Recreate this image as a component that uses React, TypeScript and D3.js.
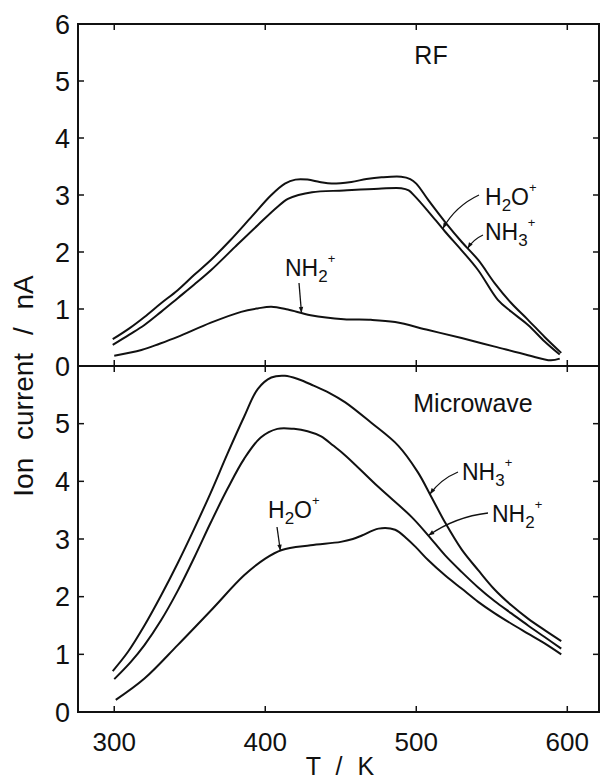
import React from "react";
import * as d3 from "d3";

type P = [number, number];

// RF panel series: [T (K), ion current (nA)]
const rfNH3: P[] = [[299,0.47],[310,0.66],[320,0.86],[331,1.1],[342,1.33],[353,1.6],[364,1.86],[377,2.21],[391,2.62],[404,3.0],[413,3.2],[420,3.27],[428,3.27],[436,3.23],[444,3.2],[457,3.23],[467,3.28],[477,3.31],[490,3.32],[496,3.28],[500,3.2],[508,2.91],[519,2.53],[530,2.18],[541,1.86],[552,1.45],[563,1.1],[574,0.81],[585,0.51],[596,0.23]];
const rfH2O: P[] = [[299,0.37],[310,0.55],[320,0.72],[331,0.95],[342,1.19],[353,1.43],[364,1.68],[380,2.09],[395,2.47],[408,2.79],[415,2.93],[422,3.0],[431,3.05],[452,3.08],[475,3.11],[490,3.12],[495,3.08],[499,2.98],[508,2.71],[519,2.36],[530,2.03],[541,1.68],[554,1.16],[563,0.95],[574,0.72],[585,0.43],[595,0.2]];
const rfNH2: P[] = [[300,0.18],[318,0.28],[330,0.39],[342,0.51],[364,0.76],[384,0.95],[395,1.01],[404,1.04],[415,0.99],[430,0.89],[452,0.82],[470,0.81],[486,0.77],[508,0.63],[530,0.49],[552,0.34],[574,0.19],[589,0.1],[595,0.13]];

// Microwave panel series
const mwNH3: P[] = [[299,0.71],[309,1.04],[320,1.5],[331,2.02],[342,2.58],[353,3.18],[364,3.81],[375,4.48],[386,5.12],[395,5.6],[404,5.8],[413,5.83],[422,5.77],[432,5.66],[442,5.54],[453,5.37],[470,5.02],[488,4.62],[501,4.16],[510,3.73],[519,3.29],[530,2.82],[541,2.46],[552,2.12],[563,1.85],[574,1.62],[585,1.42],[596,1.23]];
const mwNH2: P[] = [[300,0.57],[311,0.87],[320,1.16],[331,1.59],[342,2.1],[353,2.68],[364,3.29],[375,3.87],[386,4.39],[397,4.76],[408,4.91],[419,4.91],[428,4.87],[437,4.78],[445,4.62],[453,4.45],[475,3.9],[497,3.38],[508,3.06],[519,2.72],[530,2.43],[541,2.16],[552,1.92],[563,1.71],[574,1.5],[585,1.3],[596,1.1]];
const mwH2O: P[] = [[301,0.21],[320,0.58],[342,1.16],[364,1.76],[386,2.37],[400,2.66],[411,2.81],[430,2.89],[450,2.95],[458,3.0],[464,3.06],[475,3.18],[486,3.16],[494,3.0],[500,2.85],[508,2.63],[519,2.37],[530,2.14],[541,1.91],[552,1.71],[563,1.53],[574,1.36],[585,1.19],[596,1.0]];

const xTicks = [300, 400, 500, 600];
const yTicksTop = [0, 1, 2, 3, 4, 5, 6];
const yTicksBottom = [0, 1, 2, 3, 4, 5];

const FONT = "'Liberation Sans', Arial, sans-serif";

const x = d3.scaleLinear().domain([276, 621]).range([78, 599]);
const yTop = d3.scaleLinear().domain([0, 6]).range([366, 24]);
const yBot = d3.scaleLinear().domain([0, 6]).range([712, 366]);

function valueAt(s: P[], t: number) {
  for (let i = 0; i < s.length - 1; i++) {
    if (t >= s[i][0] && t <= s[i + 1][0]) {
      const f = (t - s[i][0]) / (s[i + 1][0] - s[i][0]);
      return s[i][1] + f * (s[i + 1][1] - s[i][1]);
    }
  }
  return s[s.length - 1][1];
}

type Part = { t: string; k: "n" | "sub" | "sup" };
type Ann = {
  series: P[];
  y: d3.ScaleLinear<number, number>;
  tipT: number;
  parts: Part[];
  lx: number;
  ly: number;
  sx: number;
  sy: number;
  bend: number;
};

const H2O: Part[] = [{ t: "H", k: "n" }, { t: "2", k: "sub" }, { t: "O", k: "n" }, { t: "+", k: "sup" }];
const NH3: Part[] = [{ t: "NH", k: "n" }, { t: "3", k: "sub" }, { t: "+", k: "sup" }];
const NH2: Part[] = [{ t: "NH", k: "n" }, { t: "2", k: "sub" }, { t: "+", k: "sup" }];

const anns: Ann[] = [
  { series: rfH2O, y: yTop, tipT: 517.5, parts: H2O, lx: 485, ly: 205, sx: 479, sy: 195, bend: 8 },
  { series: rfNH3, y: yTop, tipT: 534, parts: NH3, lx: 485, ly: 240, sx: 483, sy: 235, bend: 3 },
  { series: rfNH2, y: yTop, tipT: 424, parts: NH2, lx: 285, ly: 276, sx: 299, sy: 283, bend: 0 },
  { series: mwNH3, y: yBot, tipT: 509, parts: NH3, lx: 462, ly: 480, sx: 458, sy: 472, bend: 5 },
  { series: mwNH2, y: yBot, tipT: 508, parts: NH2, lx: 492, ly: 522, sx: 488, sy: 513, bend: 8 },
  { series: mwH2O, y: yBot, tipT: 410, parts: H2O, lx: 268, ly: 518, sx: 277, sy: 527, bend: 0 },
];

function Label({ a }: { a: Ann }) {
  let cur = 0;
  return (
    <text x={a.lx} y={a.ly} fontFamily={FONT} fontSize={23} fill="#111">
      {a.parts.map((p, i) => {
        const target = p.k === "sub" ? 6 : p.k === "sup" ? -13 : 0;
        const dy = target - cur;
        cur = target;
        return (
          <tspan key={i} dy={dy} fontSize={p.k === "n" ? 23 : p.k === "sub" ? 17 : 13}>
            {p.t}
          </tspan>
        );
      })}
    </text>
  );
}

function Leader({ a }: { a: Ann }) {
  const tx = x(a.tipT);
  const ty = a.y(valueAt(a.series, a.tipT));
  const mx = (a.sx + tx) / 2;
  const my = (a.sy + ty) / 2;
  const dx = tx - a.sx;
  const dy = ty - a.sy;
  const len = Math.hypot(dx, dy);
  const nx = -dy / len;
  const ny = dx / len;
  const cx = mx + nx * a.bend;
  const cy = my + ny * a.bend;
  const ax = tx - cx;
  const ay = ty - cy;
  const al = Math.hypot(ax, ay);
  const ux = ax / al;
  const uy = ay / al;
  const hl = 6;
  const hw = 2.2;
  const bx = tx - ux * hl;
  const by = ty - uy * hl;
  return (
    <g>
      <path d={`M${a.sx},${a.sy} Q${cx},${cy} ${tx},${ty}`} fill="none" stroke="#111" strokeWidth={1.3} />
      <path d={`M${tx},${ty} L${bx - uy * hw},${by + ux * hw} L${bx + uy * hw},${by - ux * hw} Z`} fill="#111" />
    </g>
  );
}

export default function App() {
  const lineTop = d3
    .line<P>()
    .x((d) => x(d[0]))
    .y((d) => yTop(d[1]))
    .curve(d3.curveCatmullRom.alpha(0.5));
  const lineBot = d3
    .line<P>()
    .x((d) => x(d[0]))
    .y((d) => yBot(d[1]))
    .curve(d3.curveCatmullRom.alpha(0.5));

  const L = 78, R = 599, T = 24, B = 712, M = 366;
  const tk = 6;

  return (
    <svg width={600} height={783} style={{ position: "absolute", left: 0, top: 0, background: "#fff" }}>
      <rect x={0} y={0} width={600} height={783} fill="#fff" />
      <rect x={L} y={T} width={R - L} height={B - T} fill="none" stroke="#111" strokeWidth={2} />
      <line x1={L} x2={R} y1={M} y2={M} stroke="#111" strokeWidth={2} />

      {xTicks.map((t) => (
        <g key={"xt" + t}>
          <line x1={x(t)} x2={x(t)} y1={T} y2={T + tk} stroke="#111" strokeWidth={1.5} />
          <line x1={x(t)} x2={x(t)} y1={M - tk} y2={M + tk} stroke="#111" strokeWidth={1.5} />
          <line x1={x(t)} x2={x(t)} y1={B} y2={B - tk} stroke="#111" strokeWidth={1.5} />
          <text x={x(t)} y={751} textAnchor="middle" fontFamily={FONT} fontSize={26} fill="#111">
            {t}
          </text>
        </g>
      ))}

      {yTicksTop.map((v) => (
        <g key={"yt" + v}>
          {v > 0 && v < 6 && (
            <>
              <line x1={L} x2={L + tk} y1={yTop(v)} y2={yTop(v)} stroke="#111" strokeWidth={1.5} />
              <line x1={R} x2={R - tk} y1={yTop(v)} y2={yTop(v)} stroke="#111" strokeWidth={1.5} />
            </>
          )}
          <text x={70} y={yTop(v)} dy="0.36em" textAnchor="end" fontFamily={FONT} fontSize={27} fill="#111">
            {v}
          </text>
        </g>
      ))}
      {yTicksBottom.map((v) => (
        <g key={"yb" + v}>
          {v > 0 && (
            <>
              <line x1={L} x2={L + tk} y1={yBot(v)} y2={yBot(v)} stroke="#111" strokeWidth={1.5} />
              <line x1={R} x2={R - tk} y1={yBot(v)} y2={yBot(v)} stroke="#111" strokeWidth={1.5} />
            </>
          )}
          <text x={70} y={yBot(v)} dy="0.36em" textAnchor="end" fontFamily={FONT} fontSize={27} fill="#111">
            {v}
          </text>
        </g>
      ))}

      {[rfNH3, rfH2O, rfNH2].map((s, i) => (
        <path key={"rf" + i} d={lineTop(s) || ""} fill="none" stroke="#111" strokeWidth={2} />
      ))}
      {[mwNH3, mwNH2, mwH2O].map((s, i) => (
        <path key={"mw" + i} d={lineBot(s) || ""} fill="none" stroke="#111" strokeWidth={2} />
      ))}

      {anns.map((a, i) => (
        <g key={"a" + i}>
          <Leader a={a} />
          <Label a={a} />
        </g>
      ))}

      <text x={431} y={64} textAnchor="middle" fontFamily={FONT} fontSize={25} fill="#111">RF</text>
      <text x={473} y={412} textAnchor="middle" fontFamily={FONT} fontSize={25} fill="#111">Microwave</text>

      <text
        transform="translate(33,386) rotate(-90)"
        textAnchor="middle"
        fontFamily={FONT}
        fontSize={28}
        wordSpacing={10}
        fill="#111"
      >
        Ion current / nA
      </text>
      <text x={340} y={775} textAnchor="middle" fontFamily={FONT} fontSize={25} wordSpacing={8} fill="#111">
        T / K
      </text>
    </svg>
  );
}
